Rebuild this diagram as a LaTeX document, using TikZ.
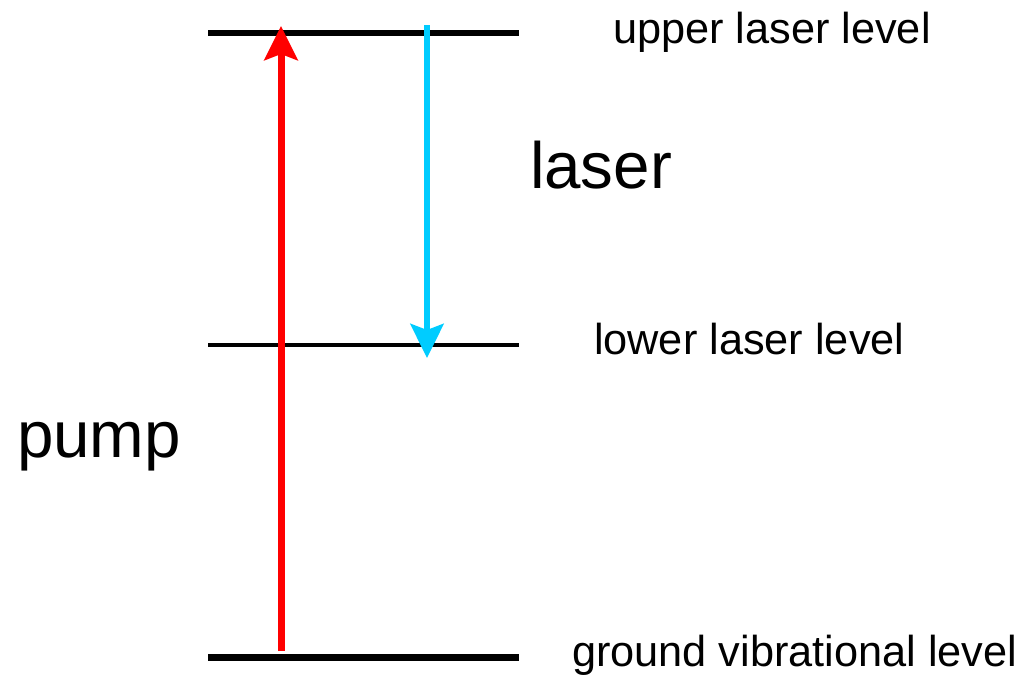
\documentclass[tikz,border=0pt]{standalone}
\usepackage{fontspec}
\setmainfont{Liberation Sans}
\usetikzlibrary{arrows.meta}
\definecolor{pumpred}{RGB}{255,0,0}
\definecolor{lasercyan}{RGB}{0,204,255}
\tikzset{
  level/.style={draw=black, line width=#1},
  label/.style={anchor=base west, inner sep=0pt, outer sep=0pt, font=\fontsize{43.3}{50}\selectfont},
  biglabel/.style={anchor=base west, inner sep=0pt, outer sep=0pt, font=\fontsize{65.5}{72}\selectfont},
  pumparrow/.style={draw=pumpred, line width=7pt, -{Stealth[length=34pt,width=33pt,inset=6pt]}},
  laserarrow/.style={draw=lasercyan, line width=6.5pt, -{Stealth[length=34pt,width=33pt,inset=6pt]}}
}
\begin{document}
\begin{tikzpicture}[x=1pt,y=-1pt]
\useasboundingbox (0,0) rectangle (1025,680);
% levels
\coordinate (upL) at (208,33);  \coordinate (upR) at (519,33);
\coordinate (loL) at (208,345); \coordinate (loR) at (519,345);
\coordinate (grL) at (208,657); \coordinate (grR) at (519,657);
\draw[level=6pt] (upL) -- (upR);
\draw[level=4.5pt] (loL) -- (loR);
\draw[level=7pt] (grL) -- (grR);
% arrows
\coordinate (pumpStart) at (281,651);
\coordinate (pumpEnd) at (281,26);
\coordinate (laserStart) at (427,25);
\coordinate (laserEnd) at (427,358);
\draw[pumparrow] (pumpStart) -- (pumpEnd);
\draw[laserarrow] (laserStart) -- (laserEnd);
% labels
\node[label] (tUp) at (613,43) {upper laser level};
\node[label] (tLo) at (594,354) {lower laser level};
\node[label] (tGr) at (572,666) {ground vibrational level};
\node[biglabel] (tLaser) at (530,188) {laser};
\node[biglabel] (tPump) at (17,457) {pump};
\end{tikzpicture}
\end{document}
